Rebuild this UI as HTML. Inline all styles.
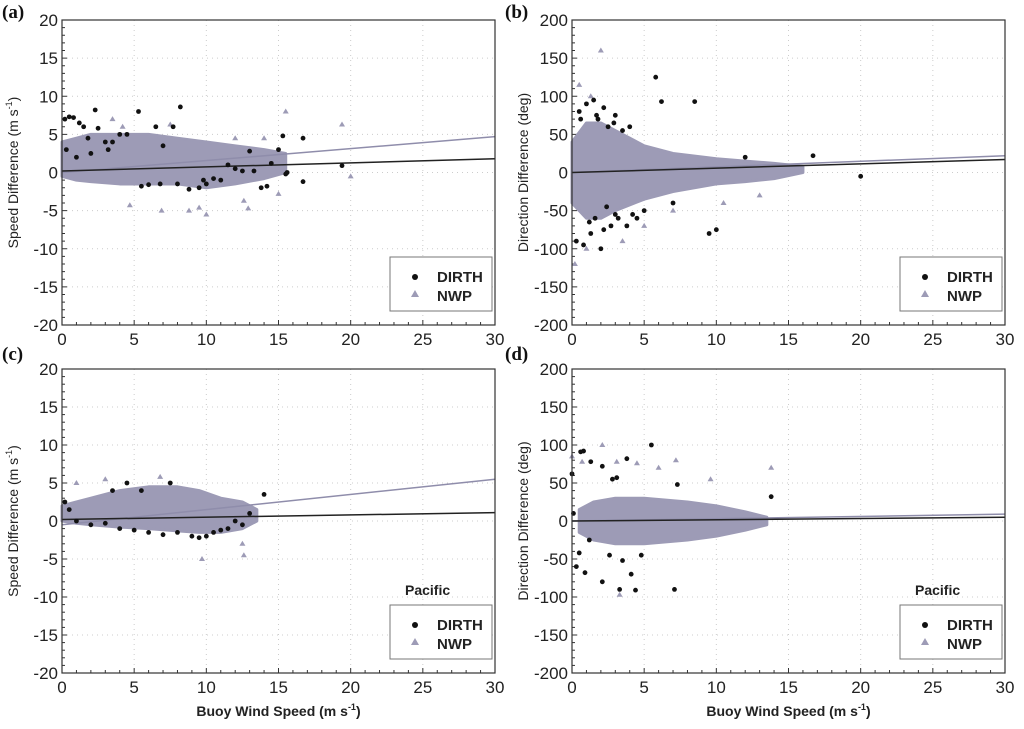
<!DOCTYPE html>
<html><head><meta charset="utf-8"><style>
body{margin:0;background:#fff;}
svg{display:block;font-family:"Liberation Sans",Arial,sans-serif;}
</style></head><body>
<svg id="c" width="1024" height="729"></svg>
<script>
// ---- data arrays ----
const xTicks=[0,5,10,15,20,25,30];
const ySpeedTicks=[-20,-15,-10,-5,0,5,10,15,20];
const yDirTicks=[-200,-150,-100,-50,0,50,100,150,200];
// panel a
const aEnvX=[0,1,2,4,6,8,10,12,14,15.5];
const aEnvUp=[4,4.5,5,5,5,4.5,4,3.5,3,2.5];
const aEnvLo=[-0.5,-1,-1.2,-1.5,-1.5,-1.5,-2,-1.5,-0.8,0];
const aDirX=[0.2,0.5,0.8,1.2,2.3,2.5,5.3,6.5,8.2,7.7,1.5,3,4.5,0.3,15.3,16.7,16.7,19.4,15.5,15.6,9.5,10,8.8,5.5,6.8,12.5,13.8,14.2,11,7,4,3.5,1.8,9.8,10.5,13,15,1,2,3.2,11.5,12,13.3,14.5,8,6];
const aDirY=[7,7.3,7.2,6.5,8.2,5.8,8,6,8.6,6,6,4,5,3,4.8,4.5,-1.2,0.9,-0.2,0,-2,-1.5,-2.2,-1.8,-1.5,0.2,-2,-1.8,-1,3.5,5,4,4.5,-1,-0.8,2.8,3,2,2.5,3,1,0.5,0.2,1.2,-1.5,-1.6];
const aNwpX=[4.7,6.9,8.8,9.5,10,12.6,12.9,15.5,19.4,20,3.5,4.2,7.5,12,14,15];
const aNwpY=[-4.3,-5,-5,-4.6,-5.5,-3.7,-4.7,8,6.3,-0.5,7,6,6.3,4.5,4.5,-2.8];
const aLineNwp=[0,4.7]; const aLineDir=[0.2,1.8];
// panel b
const bEnvX=[0,1,2,3,5,7,10,12,14,16];
const bEnvUp=[40,65,65,55,35,25,18,15,12,8];
const bEnvLo=[-40,-60,-60,-50,-35,-25,-15,-12,-8,0];
const bDirX=[0.5,1,1.5,1.8,2.2,2.5,3,3.5,4,5.8,6.2,8.5,0.3,0.8,1.3,2,2.7,3.2,4.2,5,9.5,10,16.7,20,1.6,2.4,7,12,1.2,2.2,3,3.8,0.6,1.7,2.9,4.5];
const bDirY=[80,90,95,70,85,60,75,55,60,125,93,93,-90,-95,-80,-100,-70,-60,-55,-50,-80,-75,22,-5,-60,-45,-40,20,-65,-75,-55,-70,70,75,65,-60];
const bNwpX=[0.5,1.3,2,0.2,1,3.5,5,7,10.5,13];
const bNwpY=[115,100,160,-120,-100,-90,-70,-50,-40,-30];
const bLineNwp=[0,22]; const bLineDir=[0,17];
// panel c
const cEnvX=[0,1,2,4,6,8,9.5,11,12.5,13.5];
const cEnvUp=[2,2.5,3,4,4.5,4.5,4,3,2.5,1.5];
const cEnvLo=[0,-0.3,-0.5,-0.8,-1,-1.3,-1.5,-1.5,-1,0];
const cDirX=[0.2,0.5,1,2,3,4,5,6,7,8,9,9.5,10,10.5,11,11.5,12,12.5,13,7.5,4.5,5.5,3.5,14];
const cDirY=[2.5,1.5,0,-0.5,-0.3,-1,-1.2,-1.5,-1.8,-1.5,-2,-2.2,-2,-1.5,-1.2,-1,0,-0.5,1,5,5,4,4,3.5];
const cNwpX=[9.7,12.6,1,3,6.8,12.5];
const cNwpY=[-5,-4.5,5,5.5,5.8,-3];
const cLineNwp=[-0.5,5.5]; const cLineDir=[0.2,1.1];
// panel d
const dEnvX=[0.5,1.5,3,5,8,10,12,13.5];
const dEnvUp=[15,25,30,30,25,20,12,5];
const dEnvLo=[-15,-25,-30,-30,-25,-20,-12,-5];
const dDirX=[0,0.1,0.6,0.8,1.3,2.1,3.1,3.8,5.5,0.3,0.9,2.1,3.3,4.1,4.4,7.1,2.6,3.5,1.2,13.8,7.3,4.8,0.5,2.8];
const dDirY=[62,10,91,92,78,72,57,82,100,-60,-68,-80,-90,-70,-91,-90,-45,-52,-25,32,48,-45,-42,55];
const dNwpX=[0,0.7,2.1,3.1,3.3,4.5,7.2,9.6,13.8,6];
const dNwpY=[85,78,100,78,-97,76,80,55,70,70];
const dLineNwp=[0,9]; const dLineDir=[0,5];

const NS='http://www.w3.org/2000/svg';
const svg=document.getElementById('c');
function el(t,a,p){const e=document.createElementNS(NS,t);for(const k in a)e.setAttribute(k,a[k]);(p||svg).appendChild(e);return e;}
const NWPC='#9d9bb6';

function panel(o){
  const g=el('g',{});
  
  
  const L=o.L,R=o.R,T=o.T,B=o.B,ymin=o.yt[0],ymax=o.yt[o.yt.length-1];
  const X=v=>L+(v-0)/30*(R-L), Y=v=>B-(v-ymin)/(ymax-ymin)*(B-T);
  o.yt.forEach(v=>{const l=el('line',{x1:L,x2:R,y1:Y(v),y2:Y(v),stroke:'#ccc','stroke-dasharray':'1,4'},g);
    });
  xTicks.forEach(v=>{const l=el('line',{x1:X(v),x2:X(v),y1:T,y2:B,stroke:'#ccc','stroke-dasharray':'1,4'},g);
    });
  for(let v=0;v<=30;v++){el('line',{x1:X(v),x2:X(v),y1:B,y2:B-(v%5?3:5),stroke:'#333'},g);}
  const ys=(ymax-ymin)/40;
  for(let v=ymin;v<=ymax;v+=ys){el('line',{x1:L,x2:L+((Math.round((v-ymin)/ys))%5?3:5),y1:Y(v),y2:Y(v),stroke:'#333'},g);}
  let pts=o.ex.map((x,i)=>X(x)+','+Y(o.eu[i])).concat(o.ex.slice().reverse().map((x,i)=>X(x)+','+Y(o.el[o.ex.length-1-i])));
  const poly=el('polygon',{points:pts.join(' '),fill:NWPC,stroke:NWPC,'stroke-width':3,'stroke-linejoin':'round'},g);
  
  const ln=el('line',{x1:X(0),y1:Y(o.ln[0]),x2:X(30),y2:Y(o.ln[1]),stroke:'#8f8dab','stroke-width':1.5},g);
  
  const ld=el('line',{x1:X(0),y1:Y(o.ld[0]),x2:X(30),y2:Y(o.ld[1]),stroke:'#222','stroke-width':1.5},g);
  
  o.nx.forEach((x,i)=>{const cx=X(x),cy=Y(o.ny[i]);
    const p=el('polygon',{points:`${cx},${cy-3} ${cx-3},${cy+2} ${cx+3},${cy+2}`,fill:NWPC},g);
    });
  o.dx.forEach((x,i)=>{const c=el('circle',{cx:X(x),cy:Y(o.dy[i]),r:2.4,fill:'#111'},g);
    });
  const fr=el('rect',{x:L,y:T,width:R-L,height:B-T,fill:'none',stroke:'#333','stroke-width':1.2},g);
  
  o.yt.forEach(v=>{const t=el('text',{x:L-4,y:Y(v)+6,'text-anchor':'end','font-size':17,fill:'#222'},g);t.textContent=v;
    });
  xTicks.forEach(v=>{const t=el('text',{x:X(v),y:B+20,'text-anchor':'middle','font-size':17,fill:'#222'},g);t.textContent=v;
    });
  const yt=el('text',{transform:`translate(${L-44},${(T+B)/2}) rotate(-90)`,'text-anchor':'middle','font-size':14,fill:'#222'},g);
  yt.innerHTML=o.ytitle;
  
  if(o.xtitle){const xt=el('text',{x:(L+R)/2,y:B+43,'text-anchor':'middle','font-size':14,'font-weight':'bold',fill:'#222'},g);
    xt.innerHTML='Buoy Wind Speed (m s<tspan dy="-6" font-size="9">-1</tspan><tspan dy="6">)</tspan>';
    }
  const pl=el('text',{x:o.plx,y:o.ply,'font-size':19,'font-weight':'bold','font-family':'Liberation Serif,serif',fill:'#111'},g);
  pl.textContent='('+o.id+')';
  const lx=R-105,ly=B-68;
  const lg=el('g',{},g);
  el('rect',{x:lx,y:ly,width:102,height:54,fill:'#fff',stroke:'#777'},lg);
  el('circle',{cx:lx+25,cy:ly+20,r:3,fill:'#111'},lg);
  el('polygon',{points:`${lx+25},${ly+33} ${lx+21},${ly+40} ${lx+29},${ly+40}`,fill:NWPC},lg);
  const t1=el('text',{x:lx+47,y:ly+25,'font-size':15,'font-weight':'bold',fill:'#222'},lg);t1.textContent='DIRTH';
  
  const t2=el('text',{x:lx+47,y:ly+44,'font-size':15,'font-weight':'bold',fill:'#222'},lg);t2.textContent='NWP';
  
  if(o.pac){const p=el('text',{x:lx+15,y:ly-10,'font-size':14,'font-weight':'bold',fill:'#222'},g);p.textContent='Pacific';
    }
}
const SP='Speed Difference (m s<tspan dy="-6" font-size="9">-1</tspan><tspan dy="6">)</tspan>';
const DD='Direction Difference (deg)';
panel({id:'a',L:62,R:495,T:20,B:325,yt:ySpeedTicks,ex:aEnvX,eu:aEnvUp,el:aEnvLo,dx:aDirX,dy:aDirY,nx:aNwpX,ny:aNwpY,ln:aLineNwp,ld:aLineDir,ytitle:SP,plx:2,ply:18});
panel({id:'b',L:572,R:1005,T:20,B:325,yt:yDirTicks,ex:bEnvX,eu:bEnvUp,el:bEnvLo,dx:bDirX,dy:bDirY,nx:bNwpX,ny:bNwpY,ln:bLineNwp,ld:bLineDir,ytitle:DD,plx:505,ply:18});
panel({id:'c',L:62,R:495,T:369,B:673,yt:ySpeedTicks,ex:cEnvX,eu:cEnvUp,el:cEnvLo,dx:cDirX,dy:cDirY,nx:cNwpX,ny:cNwpY,ln:cLineNwp,ld:cLineDir,ytitle:SP,plx:2,ply:360,xtitle:1,pac:1});
panel({id:'d',L:572,R:1005,T:369,B:673,yt:yDirTicks,ex:dEnvX,eu:dEnvUp,el:dEnvLo,dx:dDirX,dy:dDirY,nx:dNwpX,ny:dNwpY,ln:dLineNwp,ld:dLineDir,ytitle:DD,plx:505,ply:360,xtitle:1,pac:1});
</script>
</body></html>
